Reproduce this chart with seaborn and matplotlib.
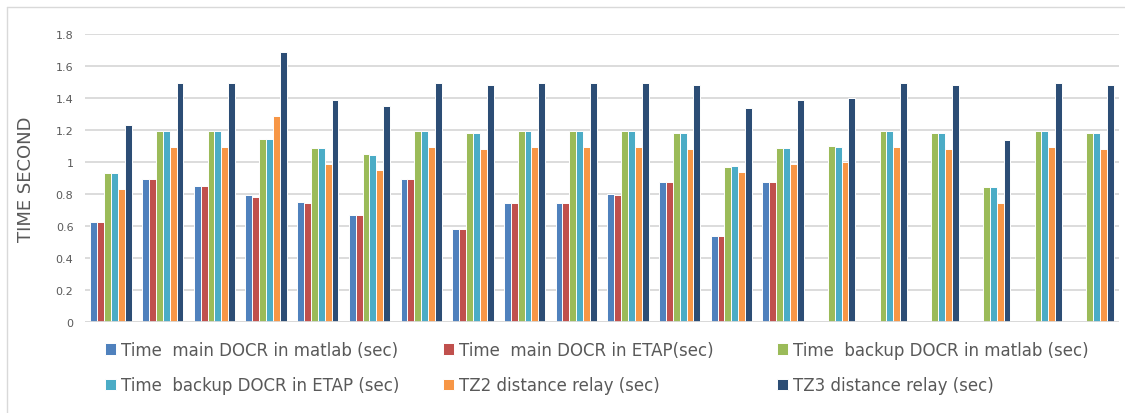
import matplotlib
matplotlib.use("Agg")
import matplotlib.pyplot as plt
from matplotlib.lines import Line2D
from matplotlib.ticker import FuncFormatter
import pandas as pd
import seaborn as sns

# ---- data -------------------------------------------------------------
cases = [str(i) for i in range(1, 21)]

series_names = [
    "Time  main DOCR in matlab (sec)",
    "Time  main DOCR in ETAP(sec)",
    "Time  backup DOCR in matlab (sec)",
    "Time  backup DOCR in ETAP (sec)",
    "TZ2 distance relay (sec)",
    "TZ3 distance relay (sec)",
]

main_matlab = [0.625, 0.89, 0.85, 0.79, 0.75, 0.67, 0.89, 0.58, 0.74, 0.74,
               0.80, 0.875, 0.54, 0.875, 0, 0, 0, 0, 0, 0]
main_etap = [0.625, 0.89, 0.85, 0.78, 0.745, 0.67, 0.89, 0.58, 0.74, 0.74,
             0.795, 0.875, 0.54, 0.875, 0, 0, 0, 0, 0, 0]
backup_matlab = [0.93, 1.19, 1.19, 1.145, 1.085, 1.05, 1.19, 1.18, 1.19, 1.19,
                 1.19, 1.18, 0.97, 1.085, 1.10, 1.19, 1.18, 0.84, 1.19, 1.18]
backup_etap = [0.93, 1.19, 1.19, 1.145, 1.085, 1.045, 1.19, 1.18, 1.19, 1.19,
               1.19, 1.18, 0.975, 1.085, 1.095, 1.19, 1.18, 0.84, 1.19, 1.18]
tz2 = [0.83, 1.09, 1.09, 1.285, 0.985, 0.95, 1.09, 1.08, 1.09, 1.09,
       1.09, 1.08, 0.935, 0.985, 1.00, 1.09, 1.08, 0.74, 1.09, 1.08]
tz3 = [1.23, 1.49, 1.49, 1.685, 1.385, 1.35, 1.49, 1.48, 1.49, 1.49,
       1.49, 1.48, 1.335, 1.385, 1.40, 1.49, 1.48, 1.135, 1.49, 1.48]

colors = ["#4F81BD", "#C0504D", "#9BBB59", "#4BACC6", "#F79646", "#2C4D75"]

y_ticks = [0, 0.2, 0.4, 0.6, 0.8, 1.0, 1.2, 1.4, 1.6, 1.8]

# ---- long table for seaborn --------------------------------------------
all_series = [main_matlab, main_etap, backup_matlab, backup_etap, tz2, tz3]
rows = []
for name, vals in zip(series_names, all_series):
    for case, v in zip(cases, vals):
        rows.append({"case": case, "series": name, "value": v})
df = pd.DataFrame(rows)

# ---- figure -------------------------------------------------------------
sns.set_theme(style="white")
plt.rcParams["font.family"] = ["DejaVu Sans"]

W, H = 1125, 414
fig = plt.figure(figsize=(W / 100, H / 100), dpi=100)
fig.patch.set_facecolor("white")

left, right = 85.2 / W, 1119 / W
bottom, top = 1 - 323 / H, 1 - 34.7 / H
ax = fig.add_axes([left, bottom, right - left, top - bottom])

sns.barplot(
    data=df, x="case", y="value", hue="series",
    hue_order=series_names, order=cases,
    palette=colors, width=0.8, edgecolor="white", linewidth=0.7,
    saturation=1, errorbar=None, ax=ax, zorder=2,
)

ax.set_xlim(-0.5, len(cases) - 0.5)
ax.set_ylim(0, 1.8)
ax.set_yticks(y_ticks)
ax.yaxis.set_major_formatter(FuncFormatter(lambda v, p: f"{v:g}"))
ax.set_xticks([])
ax.set_xlabel("")
ax.grid(axis="y", color="#D9D9D9", linewidth=1.3)
ax.set_axisbelow(True)
ax.axhline(0, color="#D9D9D9", linewidth=1.3, zorder=3)
for s in ax.spines.values():
    s.set_visible(False)
ax.tick_params(axis="y", length=0, pad=8.5, labelsize=8, labelcolor="#595959")

ax.set_ylabel("TIME SECOND", fontsize=13, color="#595959")
ax.yaxis.set_label_coords((35 - 85.2) / (1119 - 85.2), 0.5)

# legend: three columns, two rows, entries ordered row by row
handles, labels = ax.get_legend_handles_labels()
ax.get_legend().remove()
col_x = [105, 443, 777]
for c in range(3):
    idx = [c, c + 3]
    fig.legend(
        [handles[i] for i in idx], [labels[i] for i in idx],
        loc="center left", bbox_to_anchor=(col_x[c] / W, 1 - 368.5 / H),
        frameon=False, fontsize=12, labelcolor="#595959",
        handlelength=0.66, handleheight=0.66, handletextpad=0.3,
        labelspacing=1.05, borderpad=0, borderaxespad=0,
    )

# outer chart border: left and top edges
border = "#D9D9D9"
fig.add_artist(Line2D([7 / W, 7 / W], [0, 1 - 8 / H],
                      transform=fig.transFigure, color=border, linewidth=1.0))
fig.add_artist(Line2D([7 / W, 1], [1 - 8 / H, 1 - 8 / H],
                      transform=fig.transFigure, color=border, linewidth=1.0))

fig.savefig("out.png", dpi=100, facecolor="white")
